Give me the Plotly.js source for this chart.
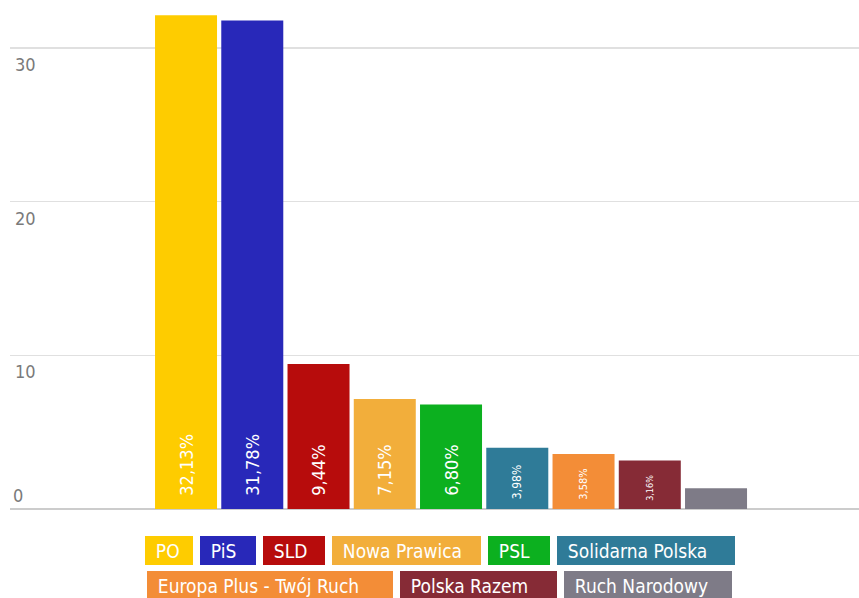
<!DOCTYPE html>
<html>
<head>
<meta charset="utf-8">
<script src="https://cdn.plot.ly/plotly-3.0.1.min.js"></script>
<style>
html,body{margin:0;padding:0;background:#fff;}
#chart{width:859px;height:598px;}
</style>
</head>
<body>
<div id="chart"></div>
<script>
// ---- data ----
var parties = ["PO", "PiS", "SLD", "Nowa Prawica", "PSL", "Solidarna Polska", "Europa Plus - Twój Ruch", "Polska Razem", "Ruch Narodowy"];
var values = [32.13, 31.78, 9.44, 7.15, 6.80, 3.98, 3.58, 3.16, 1.35];
var labels = ["32,13%", "31,78%", "9,44%", "7,15%", "6,80%", "3,98%", "3,58%", "3,16%", ""];
var yTicks = [0, 10, 20, 30];
var yTickText = ["0", "10", "20", "30"];

// ---- styles ----
var colors = ["#FECC00", "#2828B9", "#B70C0C", "#F2AE3B", "#0CB01F", "#2F7B98", "#F38D37", "#862B36", "#7E7B87"];
var labelSizes = [18, 18, 18, 18, 18, 12, 11, 9, 9];
var FONT = '"Liberation Sans Narrow", "DejaVu Sans Condensed", "Roboto", sans-serif';

var trace = {
  type: 'bar',
  x: parties,
  y: values,
  text: labels,
  texttemplate: '\u00a0\u00a0%{text}',
  textposition: 'inside',
  insidetextanchor: 'start',
  textangle: -90,
  textfont: {family: FONT, color: '#ffffff', size: labelSizes},
  marker: {color: colors, line: {width: 0}},
  hoverinfo: 'x+y',
  cliponaxis: false
};

// legend boxes (drawn as annotations)
var boxW = [48, 56, 62, 149, 62, 178, 246, 157, 168];
var rows = [[0,1,2,3,4,5],[6,7,8]];
var rowTop = [536, 571];
var plotL = 10, plotW = 849, plotH = 509;
var gap = 7, cx = 439.5;
var annotations = [];
rows.forEach(function(row, r){
  var total = row.reduce(function(s,i){return s + boxW[i];}, 0) + gap*(row.length-1);
  var px = cx - total/2;
  row.forEach(function(i){
    annotations.push({
      xref: 'paper', yref: 'paper',
      x: (px - plotL)/plotW, y: (plotH - rowTop[r])/plotH,
      xanchor: 'left', yanchor: 'top',
      text: '\u00a0\u00a0' + parties[i],
      showarrow: false,
      align: 'left',
      valign: 'middle',
      width: boxW[i], height: 29,
      bgcolor: colors[i],
      borderpad: 0, borderwidth: 0,
      font: {family: FONT, size: 19, color: '#ffffff'}
    });
    px += boxW[i] + gap;
  });
});
// "0" tick label sits above the baseline
annotations.push({
  xref: 'paper', yref: 'y', x: 0, y: yTicks[0],
  xanchor: 'left', yanchor: 'bottom', xshift: 1, yshift: 1,
  text: yTickText[0], showarrow: false,
  font: {family: FONT, size: 18, color: '#7a7a7a'}
});

var layout = {
  width: 859, height: 598,
  margin: {l: 10, r: 0, t: 0, b: 89},
  paper_bgcolor: '#ffffff', plot_bgcolor: '#ffffff',
  showlegend: false,
  bargap: 0.064,
  xaxis: {
    type: 'category',
    range: [-2.657, 10.158],
    showticklabels: false, showgrid: false, zeroline: false, ticks: '', showline: false, fixedrange: true
  },
  yaxis: {
    range: [0, 33.12],
    tickvals: yTicks.slice(1), ticktext: yTickText.slice(1),
    ticklabelposition: 'inside bottom',
    ticklabelstandoff: 2,
    ticklabelshift: 4,
    tickfont: {family: FONT, size: 18, color: '#7a7a7a'},
    gridcolor: '#e0e0e0', gridwidth: 1.5,
    zeroline: true, zerolinecolor: '#cccccc', zerolinewidth: 2,
    showline: false, ticks: '', fixedrange: true
  },
  annotations: annotations
};

Plotly.newPlot('chart', [trace], layout, {displayModeBar: false, staticPlot: true});
</script>
</body>
</html>
